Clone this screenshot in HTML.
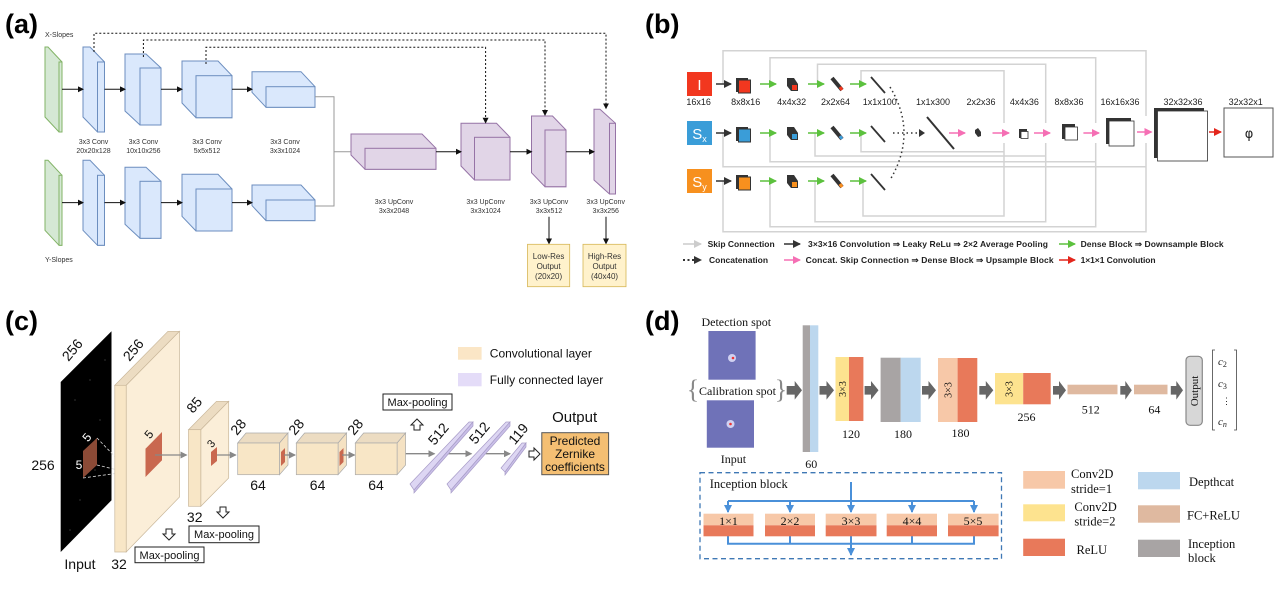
<!DOCTYPE html>
<html><head><meta charset="utf-8"><style>
html,body{margin:0;padding:0;background:#fff;}
svg{display:block;}
.a{font-family:"Liberation Sans",sans-serif;font-size:7px;fill:#333;text-anchor:middle;}
.lab{font-family:"Liberation Sans",sans-serif;font-size:27px;font-weight:bold;fill:#000;}
.b{font-family:"Liberation Sans",sans-serif;font-size:9px;fill:#222;text-anchor:middle;}
.bl{font-family:"Liberation Sans",sans-serif;font-size:8.5px;fill:#222;font-weight:bold;}
.c{font-family:"Liberation Sans",sans-serif;font-size:14px;fill:#111;text-anchor:middle;}
.cs{font-family:"Liberation Sans",sans-serif;font-size:11px;fill:#111;}
.d{font-family:"Liberation Serif",serif;font-size:12px;fill:#111;text-anchor:middle;}
</style></head><body>
<svg width="1280" height="594" viewBox="0 0 1280 594" xmlns="http://www.w3.org/2000/svg">
<defs>
<marker id="ka" markerWidth="6" markerHeight="6" refX="5" refY="3" orient="auto" markerUnits="userSpaceOnUse"><path d="M0,0 L6,3 L0,6 z" fill="#111"/></marker>
<marker id="kg" markerWidth="8" markerHeight="8" refX="7" refY="4" orient="auto" markerUnits="userSpaceOnUse"><path d="M0,0 L8,4 L0,8 z" fill="#5cc13e"/></marker>
<marker id="kp" markerWidth="8" markerHeight="8" refX="7" refY="4" orient="auto" markerUnits="userSpaceOnUse"><path d="M0,0 L8,4 L0,8 z" fill="#f56fb4"/></marker>
<marker id="kr" markerWidth="8" markerHeight="8" refX="7" refY="4" orient="auto" markerUnits="userSpaceOnUse"><path d="M0,0 L8,4 L0,8 z" fill="#e3261c"/></marker>
<marker id="kk" markerWidth="8" markerHeight="8" refX="7" refY="4" orient="auto" markerUnits="userSpaceOnUse"><path d="M0,0 L8,4 L0,8 z" fill="#333"/></marker>
<marker id="kl" markerWidth="8" markerHeight="8" refX="7" refY="4" orient="auto" markerUnits="userSpaceOnUse"><path d="M0,0 L8,4 L0,8 z" fill="#ccc"/></marker>
<marker id="kc" markerWidth="7" markerHeight="7" refX="6" refY="3.5" orient="auto" markerUnits="userSpaceOnUse"><path d="M0,0 L7,3.5 L0,7 z" fill="#888"/></marker>
<marker id="kb" markerWidth="8" markerHeight="8" refX="7" refY="4" orient="auto" markerUnits="userSpaceOnUse"><path d="M0,0 L8,4 L0,8 z" fill="#4a90d9"/></marker>
</defs>

<!-- ================= (a) ================= -->
<text x="5" y="33" class="lab">(a)</text>
<text x="45" y="37" class="a" style="text-anchor:start">X-Slopes</text>
<text x="45" y="262" class="a" style="text-anchor:start">Y-Slopes</text>
<g id="arow" stroke-width="1">
<polygon points="45,47 48,47 62,62 62,132 59,132 45,117" fill="#d5e8d4" stroke="#82b366"/><rect x="59" y="62" width="3" height="70" fill="#d5e8d4" stroke="#82b366"/>
<polygon points="83,47 90,47 104.5,62 104.5,132 97.5,132 83,117" fill="#dae8fc" stroke="#6c8ebf"/><rect x="97.5" y="62" width="7" height="70" fill="#dae8fc" stroke="#6c8ebf"/>
<polygon points="125,54 146,54 161,68 161,125 140,125 125,111" fill="#dae8fc" stroke="#6c8ebf"/><rect x="140" y="68" width="21" height="57" fill="#dae8fc" stroke="#6c8ebf"/>
<polygon points="182,61 218,61 232,75.7 232,117.7 196,117.7 182,103" fill="#dae8fc" stroke="#6c8ebf"/><rect x="196" y="75.7" width="36" height="42" fill="#dae8fc" stroke="#6c8ebf"/>
<polygon points="252,71.7 301,71.7 315,86.7 315,107.3 266,107.3 252,92.3" fill="#dae8fc" stroke="#6c8ebf"/><rect x="266" y="86.7" width="49" height="20.6" fill="#dae8fc" stroke="#6c8ebf"/>
<g stroke="#111" marker-end="url(#ka)">
<line x1="62" y1="89.3" x2="83" y2="89.3"/><line x1="104.5" y1="89.3" x2="125" y2="89.3"/><line x1="161" y1="89.3" x2="182" y2="89.3"/><line x1="232" y1="89.3" x2="252" y2="89.3"/>
</g>
</g>
<use href="#arow" transform="translate(0,113.3)"/>
<path d="M315,96.7 H334 V206 H315 M334,151.7 H351" fill="none" stroke="#999" stroke-width="1"/>
<polygon points="351,134 422,134 436,148.3 436,169.3 365,169.3 351,155" fill="#e1d5e7" stroke="#9673a6"/><rect x="365" y="148.3" width="71" height="21" fill="#e1d5e7" stroke="#9673a6"/>
<polygon points="461,123.3 496.5,123.3 510,137.3 510,180 474.5,180 461,166" fill="#e1d5e7" stroke="#9673a6"/><rect x="474.5" y="137.3" width="35.5" height="42.7" fill="#e1d5e7" stroke="#9673a6"/>
<polygon points="531.5,116 552.5,116 566,130 566,186.7 545,186.7 531.5,172.7" fill="#e1d5e7" stroke="#9673a6"/><rect x="545" y="130" width="21" height="56.7" fill="#e1d5e7" stroke="#9673a6"/>
<polygon points="594,109.3 600,109.3 615.5,123.3 615.5,194 609.5,194 594,180" fill="#e1d5e7" stroke="#9673a6"/><rect x="609.5" y="123.3" width="6" height="70.7" fill="#e1d5e7" stroke="#9673a6"/>
<g stroke="#111" marker-end="url(#ka)">
<line x1="436" y1="151.7" x2="461" y2="151.7"/><line x1="510" y1="151.7" x2="531.5" y2="151.7"/><line x1="566" y1="151.7" x2="594" y2="151.7"/>
<line x1="549" y1="216.7" x2="549" y2="243.5"/><line x1="606" y1="216.7" x2="606" y2="243.5"/>
</g>
<g stroke="#111" stroke-dasharray="2,2" fill="none" marker-end="url(#ka)">
<path d="M94,52 V33.3 H606 V108.3"/><path d="M143.4,57 V40 H545 V115"/><path d="M206,64 V47.3 H485.6 V122.7"/>
</g>
<g class="a">
<text x="93.5" y="144">3x3 Conv</text><text x="93.5" y="153">20x20x128</text>
<text x="143.4" y="144">3x3 Conv</text><text x="143.4" y="153">10x10x256</text>
<text x="207" y="144">3x3 Conv</text><text x="207" y="153">5x5x512</text>
<text x="285" y="144">3x3 Conv</text><text x="285" y="153">3x3x1024</text>
<text x="394" y="204">3x3 UpConv</text><text x="394" y="213">3x3x2048</text>
<text x="485.6" y="204">3x3 UpConv</text><text x="485.6" y="213">3x3x1024</text>
<text x="549" y="204">3x3 UpConv</text><text x="549" y="213">3x3x512</text>
<text x="605.7" y="204">3x3 UpConv</text><text x="605.7" y="213">3x3x256</text>
</g>
<rect x="527.5" y="244.3" width="42.2" height="42.4" fill="#fff2cc" stroke="#d6b656" stroke-width="0.8"/>
<rect x="583" y="244.3" width="43" height="42.4" fill="#fff2cc" stroke="#d6b656" stroke-width="0.8"/>
<g class="a" style="font-size:8px"><text x="548.6" y="259">Low-Res</text><text x="548.6" y="269">Output</text><text x="548.6" y="279">(20x20)</text>
<text x="604.5" y="259">High-Res</text><text x="604.5" y="269">Output</text><text x="604.5" y="279">(40x40)</text></g>

<!-- ================= (b) ================= -->
<text x="645" y="33" class="lab">(b)</text>
<g fill="none" stroke="#d3d3d3" stroke-width="1.5">
<path d="M723,84 V50.7 H1146 V116"/><path d="M723,133 V166.7 H1146"/><path d="M723,181 V231.7 H1146 V143"/>
<path d="M770,84 V57.7 H1095.7 V123"/><path d="M770,133 V161.7 H1095.7"/><path d="M770,181 V226.7 H1095.7 V143"/>
<path d="M817.5,84 V64.3 H1045.7 V123"/><path d="M815,133 V156 H1045.7"/><path d="M815,181 V221.7 H1045.7 V143"/>
<path d="M861,84 V70.7 H1004 V123"/><path d="M861,133 V151.7 H1004"/><path d="M863,181 V216 H1004 V143"/>
</g>
<rect x="687" y="72" width="25" height="24" fill="#f2371f"/><text x="699.5" y="90" fill="#fff" style="font-family:'Liberation Sans',sans-serif;font-size:15px" text-anchor="middle">I</text>
<rect x="687" y="121" width="25" height="24" fill="#3a9dd8"/><text x="699.5" y="139" fill="#fff" style="font-family:'Liberation Sans',sans-serif;font-size:15px" text-anchor="middle">S<tspan font-size="9" dy="3">x</tspan></text>
<rect x="687" y="169" width="25" height="24" fill="#f7901e"/><text x="699.5" y="187" fill="#fff" style="font-family:'Liberation Sans',sans-serif;font-size:15px" text-anchor="middle">S<tspan font-size="9" dy="3">y</tspan></text>
<g id="brow">
<line x1="716" y1="84" x2="731" y2="84" stroke="#333" stroke-width="1.5" marker-end="url(#kk)"/>
<rect x="736" y="78" width="12" height="14" fill="#333"/><rect x="738.5" y="80" width="12" height="13" fill="#f2371f" stroke="#333"/>
<line x1="760" y1="84" x2="776" y2="84" stroke="#5cc13e" stroke-width="1.5" marker-end="url(#kg)"/>
<polygon points="787,78 794,78 798,84 798,91 791,91 787,86" fill="#333"/><rect x="792" y="85" width="5" height="5" fill="#f2371f"/>
<line x1="808" y1="84" x2="824" y2="84" stroke="#5cc13e" stroke-width="1.5" marker-end="url(#kg)"/>
<line x1="832" y1="78" x2="842" y2="90" stroke="#333" stroke-width="4"/><line x1="840" y1="87" x2="842" y2="90" stroke="#f2371f" stroke-width="3"/>
<line x1="850" y1="84" x2="866" y2="84" stroke="#5cc13e" stroke-width="1.5" marker-end="url(#kg)"/>
<line x1="871" y1="77" x2="885" y2="93" stroke="#333" stroke-width="1.8"/>
</g>
<use href="#brow" transform="translate(0,49)"/>
<use href="#brow" transform="translate(0,97)"/>
<rect x="738.5" y="129" width="12" height="13" fill="#3a9dd8" stroke="#333"/><rect x="792" y="134" width="5" height="5" fill="#3a9dd8"/><line x1="840" y1="136" x2="842" y2="139" stroke="#3a9dd8" stroke-width="3"/>
<rect x="738.5" y="177" width="12" height="13" fill="#f7901e" stroke="#333"/><rect x="792" y="182" width="5" height="5" fill="#f7901e"/><line x1="840" y1="184" x2="842" y2="187" stroke="#f7901e" stroke-width="3"/>
<path d="M890,87 Q918,133 890,180" fill="none" stroke="#333" stroke-width="1.5" stroke-dasharray="1.5,3"/>
<line x1="893" y1="133" x2="921" y2="133" stroke="#333" stroke-width="1.5" stroke-dasharray="1.5,3"/><path d="M919,129 L925,133 L919,137 z" fill="#333"/>
<line x1="927" y1="117" x2="954" y2="149" stroke="#333" stroke-width="2"/>
<g stroke="#f56fb4" stroke-width="1.5">
<line x1="949" y1="133" x2="965" y2="133" marker-end="url(#kp)"/>
<line x1="992.5" y1="133" x2="1009" y2="133" marker-end="url(#kp)"/>
<line x1="1034" y1="133" x2="1050" y2="133" marker-end="url(#kp)"/><line x1="1083.4" y1="133" x2="1099" y2="133" marker-end="url(#kp)"/>
<line x1="1137" y1="132" x2="1151.5" y2="132" marker-end="url(#kp)"/></g>
<polygon points="975,130 978,128 981,132 981,136 978,137 975,133" fill="#333"/>
<rect x="1019" y="129" width="8" height="9" fill="#333"/><rect x="1021" y="131.5" width="7" height="7" fill="#fff" stroke="#333" stroke-width="0.8"/>
<rect x="1062" y="124" width="13" height="15" fill="#333"/><rect x="1065" y="127" width="12.5" height="13" fill="#fff" stroke="#333" stroke-width="0.8"/>
<rect x="1106" y="118" width="25" height="26" fill="#333"/><rect x="1109" y="121" width="25" height="25" fill="#fff" stroke="#333" stroke-width="0.8"/>
<rect x="1154" y="108" width="50" height="50" fill="#333"/><rect x="1157.5" y="111" width="50" height="50" fill="#fff" stroke="#333" stroke-width="0.8"/>
<line x1="1209" y1="132" x2="1221" y2="132" stroke="#e3261c" stroke-width="1.5" marker-end="url(#kr)"/>
<rect x="1224" y="108" width="49" height="49" fill="#fff" stroke="#555" stroke-width="1"/>
<text x="1249" y="138" class="b" style="font-size:13px;font-family:'DejaVu Sans',sans-serif">φ</text>
<g class="b">
<text x="698.6" y="105">16x16</text><text x="745.7" y="105">8x8x16</text><text x="791.6" y="105">4x4x32</text><text x="835.5" y="105">2x2x64</text>
<text x="879.8" y="105">1x1x100</text><text x="933" y="105">1x1x300</text><text x="981" y="105">2x2x36</text><text x="1024.4" y="105">4x4x36</text>
<text x="1069" y="105">8x8x36</text><text x="1120" y="105">16x16x36</text><text x="1183" y="105">32x32x36</text><text x="1245.7" y="105">32x32x1</text>
</g>
<line x1="683" y1="244" x2="701" y2="244" stroke="#ccc" stroke-width="1.5" marker-end="url(#kl)"/>
<text x="707.6" y="247" class="bl">Skip Connection</text>
<line x1="784" y1="244" x2="800" y2="244" stroke="#333" stroke-width="1.5" marker-end="url(#kk)"/>
<text x="808" y="247" class="bl" textLength="240">3×3×16 Convolution ⇒ Leaky ReLu ⇒ 2×2 Average Pooling</text>
<line x1="1059" y1="244" x2="1075" y2="244" stroke="#5cc13e" stroke-width="1.5" marker-end="url(#kg)"/>
<text x="1080.6" y="247" class="bl" textLength="143">Dense Block ⇒ Downsample Block</text>
<line x1="683" y1="260" x2="701" y2="260" stroke="#333" stroke-width="2" stroke-dasharray="2,2.5" marker-end="url(#kk)"/>
<text x="709" y="263" class="bl">Concatenation</text>
<line x1="784" y1="260" x2="800" y2="260" stroke="#f56fb4" stroke-width="1.5" marker-end="url(#kp)"/>
<text x="805.6" y="263" class="bl" textLength="248">Concat. Skip Connection ⇒ Dense Block ⇒ Upsample Block</text>
<line x1="1059" y1="260" x2="1075" y2="260" stroke="#e3261c" stroke-width="1.5" marker-end="url(#kr)"/>
<text x="1080.6" y="263" class="bl" textLength="75">1×1×1 Convolution</text>

<!-- ================= (c) ================= -->
<text x="5" y="330" class="lab">(c)</text>
<polygon points="60.7,382 111.5,331.3 111.5,500.3 60.7,552" fill="#000"/>
<g fill="#555"><circle cx="75" cy="400" r="0.6"/><circle cx="90" cy="380" r="0.6"/><circle cx="100" cy="420" r="0.6"/><circle cx="80" cy="500" r="0.6"/><circle cx="95" cy="470" r="0.6"/><circle cx="70" cy="530" r="0.6"/><circle cx="105" cy="360" r="0.6"/></g>
<polygon points="83,451 97,438 97,465 83,478" fill="#8b4a36"/>
<g stroke="#ddd" stroke-dasharray="3,2" stroke-width="0.8"><line x1="97" y1="438" x2="126" y2="468"/><line x1="83" y1="478" x2="126" y2="472"/><line x1="97" y1="465" x2="126" y2="472"/></g>
<polygon points="114.8,385.3 168,331.3 179.5,331.3 126.2,385.3" fill="#ecdcc2" stroke="#c9b79a" stroke-width="0.7"/>
<polygon points="126.2,385.3 179.5,331.3 179.5,497 126.2,552" fill="#fbeed8" stroke="#c9b79a" stroke-width="0.7"/>
<rect x="114.8" y="385.3" width="11.4" height="166.7" fill="#f8e6c6" stroke="#c9b79a" stroke-width="0.7"/>
<polygon points="145.5,448.7 162,432 162,460.3 145.5,477" fill="#c9684f"/>
<polygon points="188.5,429.7 216.5,401.3 228.7,401.3 200.8,429.7" fill="#ecdcc2" stroke="#c9b79a" stroke-width="0.7"/>
<polygon points="200.8,429.7 228.7,401.3 228.7,478 200.8,506.3" fill="#fbeed8" stroke="#c9b79a" stroke-width="0.7"/>
<rect x="188.5" y="429.7" width="12.3" height="76.6" fill="#f8e6c6" stroke="#c9b79a" stroke-width="0.7"/>
<polygon points="211,452 217,447 217,461 211,466" fill="#c9684f"/>
<g id="ccube">
<polygon points="237.7,443 246,433 288,433 279.5,443" fill="#ecdcc2" stroke="#aaa" stroke-width="0.7"/>
<polygon points="279.5,443 288,433 288,465 279.5,474.7" fill="#f5e2c3" stroke="#aaa" stroke-width="0.7"/>
<rect x="237.7" y="443" width="41.8" height="31.7" fill="#f8e6c6" stroke="#aaa" stroke-width="0.7"/>
</g>
<use href="#ccube" transform="translate(58.6,0)"/>
<use href="#ccube" transform="translate(117.6,0)"/>
<polygon points="281,452 285,448 285,462 281,466" fill="#c9684f"/>
<polygon points="339.5,452 343.5,448 343.5,462 339.5,466" fill="#c9684f"/>
<g stroke="#888" stroke-width="1.3" marker-end="url(#kc)">
<line x1="155" y1="455" x2="186.5" y2="455"/><line x1="217" y1="455" x2="235.7" y2="455"/>
<line x1="284" y1="455" x2="295" y2="455"/><line x1="342" y1="455" x2="354.5" y2="455"/>
<line x1="405.7" y1="453.7" x2="434.4" y2="453.7"/><line x1="446.7" y1="453.7" x2="471.3" y2="453.7"/><line x1="485.7" y1="453.7" x2="510" y2="453.7"/>
</g>
<g stroke="#a89cc8" stroke-width="0.7" fill="#ddd6f3">
<polygon points="410,484 469,422 473,422 414,490"/><polygon points="414,490 473,422 473,426 414,493" fill="#c9bfe8"/>
<polygon points="447,484 506,422 510,422 451,490"/><polygon points="451,490 510,422 510,426 451,493" fill="#c9bfe8"/>
<polygon points="501,468 522,443 526,443 505,472"/><polygon points="505,472 526,443 526,447 505,475" fill="#c9bfe8"/>
</g>
<g class="c">
<text x="43" y="470">256</text><text x="80" y="569">Input</text><text x="119" y="569">32</text>
<text x="194.7" y="522">32</text>
<text transform="translate(76,353) rotate(-50)">256</text><text transform="translate(137,353) rotate(-50)">256</text>
<text transform="translate(198,408) rotate(-50)">85</text>
<text transform="translate(242,430) rotate(-50)">28</text><text transform="translate(300,430) rotate(-50)">28</text><text transform="translate(359,430) rotate(-50)">28</text>
<text transform="translate(442,437) rotate(-50)">512</text><text transform="translate(483,436) rotate(-50)">512</text><text transform="translate(522,437) rotate(-50)">119</text>
<text x="258" y="490">64</text><text x="317.6" y="490">64</text><text x="376" y="490">64</text>
<text x="574.6" y="422" style="font-size:15px">Output</text>
</g>
<g fill="#fff" font-family="Liberation Sans,sans-serif" font-size="12" text-anchor="middle">
<text transform="translate(90,440) rotate(-50)">5</text><text x="79" y="469">5</text>
<text transform="translate(152,437) rotate(-50)" fill="#111">5</text><text transform="translate(214,446) rotate(-50)" fill="#111" font-size="11">3</text>
</g>
<rect x="189" y="526" width="70" height="16.7" fill="#fff" stroke="#222"/><text x="224" y="538" class="cs" text-anchor="middle">Max-pooling</text>
<rect x="135" y="547" width="69" height="15.7" fill="#fff" stroke="#222"/><text x="169.5" y="559" class="cs" text-anchor="middle">Max-pooling</text>
<rect x="383" y="394" width="69" height="16" fill="#fff" stroke="#222"/><text x="417.5" y="406" class="cs" text-anchor="middle">Max-pooling</text>
<g fill="#fff" stroke="#222" stroke-width="1">
<path d="M220,507 h6 v5 h3 l-6,6 l-6,-6 h3z"/><path d="M166,529 h6 v5 h3 l-6,6 l-6,-6 h3z"/>
<path d="M414,430 h6 v-5 h3 l-6,-6 l-6,6 h3z"/><path d="M529,451 h5 v-3 l6,6 l-6,6 v-3 h-5z"/>
</g>
<rect x="541.8" y="432.7" width="66.8" height="42" fill="#f4bf73" stroke="#555"/>
<g class="c" style="font-size:12px"><text x="575" y="445">Predicted</text><text x="575" y="458">Zernike</text><text x="575" y="471">coefficients</text></g>
<rect x="458" y="347" width="23.6" height="12.7" fill="#fbe6c6"/><text x="489.8" y="357.5" class="cs" style="font-size:12px">Convolutional layer</text>
<rect x="458" y="373" width="23.6" height="13.3" fill="#e4dcf8"/><text x="489.8" y="384" class="cs" style="font-size:12px">Fully connected layer</text>

<!-- ================= (d) ================= -->
<text x="645" y="330" class="lab">(d)</text>
<text x="736.3" y="326" class="d">Detection spot</text>
<rect x="708.4" y="331" width="47.2" height="48.7" fill="#6f72b8"/><circle cx="732" cy="358" r="4" fill="#e8e8ff" opacity="0.8"/><circle cx="733" cy="358" r="1.3" fill="#e33"/>
<text x="737.5" y="395" class="d">Calibration spot</text>
<text x="693" y="398" style="font-family:'Liberation Serif',serif;font-size:26px;fill:#888" text-anchor="middle">{</text>
<text x="781" y="398" style="font-family:'Liberation Serif',serif;font-size:26px;fill:#888" text-anchor="middle">}</text>
<rect x="706.8" y="400.3" width="47.2" height="47.4" fill="#6f72b8"/><circle cx="730.5" cy="424" r="4" fill="#e8e8ff" opacity="0.8"/><circle cx="730.5" cy="424" r="1.3" fill="#e33"/>
<text x="733.4" y="463" class="d">Input</text>
<g fill="#666">
<path d="M786.7,386 h8 v-5 l7.3,9.3 l-7.3,9.3 v-5 h-8z"/><path d="M819.5,386 h7 v-5 l7.5,9.3 l-7.5,9.3 v-5 h-7z"/>
<path d="M864.6,386 h6.4 v-5 l7.5,9.3 l-7.5,9.3 v-5 h-6.4z"/><path d="M922,386 h6.5 v-5 l7.5,9.3 l-7.5,9.3 v-5 h-6.5z"/>
<path d="M979.3,386 h6.5 v-5 l7.5,9.3 l-7.5,9.3 v-5 h-6.5z"/><path d="M1053,386 h6 v-5 l7,9.3 l-7,9.3 v-5 h-6z"/>
<path d="M1120.3,386 h5 v-5 l6.5,9.3 l-6.5,9.3 v-5 h-5z"/><path d="M1170.8,386 h5.5 v-5 l6.7,9.3 l-6.7,9.3 v-5 h-5.5z"/>
</g>
<rect x="802.7" y="325.3" width="7.3" height="126.7" fill="#a8a4a4"/><rect x="810" y="325.3" width="8.3" height="126.7" fill="#bcd7ee"/>
<text x="811.3" y="468" class="d">60</text>
<rect x="835.5" y="357" width="13.5" height="64" fill="#fde38f"/><rect x="849" y="357" width="14.4" height="64" fill="#e8795a"/>
<text transform="translate(846,389) rotate(-90)" class="d" style="font-size:10px">3×3</text><text x="851" y="438" class="d">120</text>
<rect x="880.6" y="357.7" width="20.1" height="64.3" fill="#a8a4a4"/><rect x="900.7" y="357.7" width="20" height="64.3" fill="#bcd7ee"/><text x="903" y="438" class="d">180</text>
<rect x="938" y="358" width="19.6" height="64" fill="#f7c8a8"/><rect x="957.6" y="358" width="19.7" height="64" fill="#e8795a"/>
<text transform="translate(951.5,390) rotate(-90)" class="d" style="font-size:10px">3×3</text><text x="960.5" y="437" class="d">180</text>
<rect x="995" y="373" width="28.2" height="31.3" fill="#fde38f"/><rect x="1023.2" y="373" width="27.5" height="31.3" fill="#e8795a"/>
<text transform="translate(1012.5,389) rotate(-90)" class="d" style="font-size:10px">3×3</text><text x="1026.5" y="421" class="d">256</text>
<rect x="1067.5" y="384.7" width="50" height="9.6" fill="#dfb9a0"/><text x="1090.8" y="413.5" class="d">512</text>
<rect x="1134" y="384.7" width="33.5" height="9.6" fill="#dfb9a0"/><text x="1154.4" y="413.5" class="d">64</text>
<rect x="1186" y="356.3" width="16.3" height="69" rx="4" fill="#d7d7d7" stroke="#888" stroke-width="1.2"/>
<text transform="translate(1198,391) rotate(-90)" class="d" style="font-size:11px">Output</text>
<path d="M1215,350 h-2.5 v80 h2.5 M1234,350 h2.5 v80 h-2.5" fill="none" stroke="#444" stroke-width="0.8"/>
<g style="font-family:'Liberation Serif',serif;font-style:italic;font-size:11px;fill:#222"><text x="1218" y="365">c<tspan font-size="8" font-style="normal" dy="2">2</tspan></text>
<text x="1218" y="387">c<tspan font-size="8" font-style="normal" dy="2">3</tspan></text><text x="1222" y="404" font-style="normal" font-size="9">⋮</text>
<text x="1218" y="425">c<tspan font-size="8" dy="2">n</tspan></text></g>
<rect x="700" y="472.7" width="301.5" height="86" fill="none" stroke="#3f78b5" stroke-width="1.3" stroke-dasharray="5,3.5"/>
<text x="709.7" y="488" class="d" style="text-anchor:start;font-size:12.5px">Inception block</text>
<g stroke="#4a90d9" stroke-width="2" fill="none">
<line x1="851" y1="482" x2="851" y2="501"/><line x1="728" y1="501" x2="974" y2="501"/>
<line x1="728" y1="501" x2="728" y2="512" marker-end="url(#kb)"/><line x1="790" y1="501" x2="790" y2="512" marker-end="url(#kb)"/><line x1="851" y1="501" x2="851" y2="512" marker-end="url(#kb)"/><line x1="912" y1="501" x2="912" y2="512" marker-end="url(#kb)"/><line x1="974" y1="501" x2="974" y2="512" marker-end="url(#kb)"/>
<path d="M728,536 V543.7 H974 V536 M790,536 V543.7 M912,536 V543.7"/><line x1="851" y1="536" x2="851" y2="555" marker-end="url(#kb)"/>
</g>
<g>
<rect x="703.5" y="513.7" width="50" height="11.6" fill="#f7c8a8"/><rect x="703.5" y="525.3" width="50" height="11" fill="#e8795a"/>
<rect x="765" y="513.7" width="50" height="11.6" fill="#f7c8a8"/><rect x="765" y="525.3" width="50" height="11" fill="#e8795a"/>
<rect x="825.7" y="513.7" width="50.8" height="11.6" fill="#f7c8a8"/><rect x="825.7" y="525.3" width="50.8" height="11" fill="#e8795a"/>
<rect x="886.7" y="513.7" width="50.3" height="11.6" fill="#f7c8a8"/><rect x="886.7" y="525.3" width="50.3" height="11" fill="#e8795a"/>
<rect x="948" y="513.7" width="50.6" height="11.6" fill="#f7c8a8"/><rect x="948" y="525.3" width="50.6" height="11" fill="#e8795a"/>
</g>
<g class="d"><text x="728.5" y="525">1×1</text><text x="790" y="525">2×2</text><text x="851" y="525">3×3</text><text x="912" y="525">4×4</text><text x="973" y="525">5×5</text></g>
<rect x="1023.2" y="471" width="41.8" height="17.7" fill="#f7c8a8"/>
<rect x="1023.2" y="504.3" width="41.8" height="17" fill="#fde38f"/>
<rect x="1023.2" y="538.7" width="41.8" height="17.3" fill="#e8795a"/>
<rect x="1138" y="472" width="42" height="17.3" fill="#bcd7ee"/>
<rect x="1138" y="505.3" width="42" height="17.4" fill="#dfb9a0"/>
<rect x="1138" y="539.7" width="42" height="17.3" fill="#a8a4a4"/>
<g class="d" style="text-anchor:start;font-size:12.5px">
<text x="1071" y="478">Conv2D</text><text x="1071" y="493">stride=1</text>
<text x="1074.4" y="511">Conv2D</text><text x="1074.4" y="525.5">stride=2</text>
<text x="1076.5" y="554">ReLU</text>
<text x="1189" y="486">Depthcat</text><text x="1187" y="519.5">FC+ReLU</text>
<text x="1188" y="548">Inception</text><text x="1188" y="562">block</text>
</g>
</svg>
</body></html>
